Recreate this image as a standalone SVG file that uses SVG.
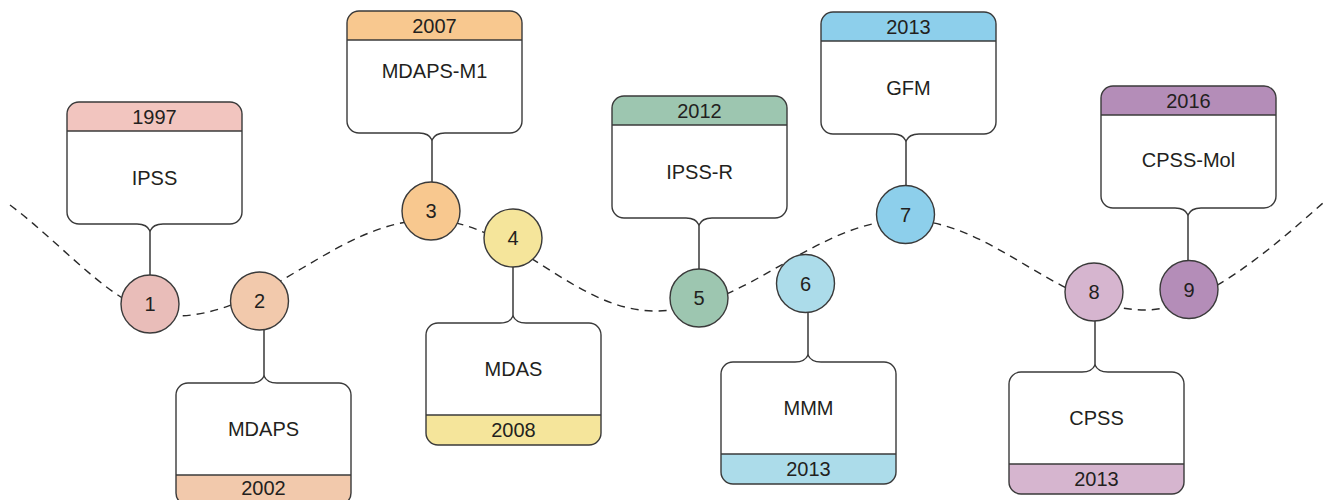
<svg xmlns="http://www.w3.org/2000/svg" width="1323" height="500" viewBox="0 0 1323 500">
  <style>
    .wave { fill: none; stroke: #2a2a2a; stroke-width: 1.4; stroke-dasharray: 8 6; }
    .stem { fill: none; stroke: #2a2a2a; stroke-width: 1.4; }
    .card { fill: #ffffff; stroke: none; }
    .outline { fill: none; stroke: #3a3a3a; stroke-width: 1.4; stroke-linejoin: round; }
    .rule { fill: none; stroke: #3a3a3a; stroke-width: 1.4; }
    .dot { stroke: #3a3a3a; stroke-width: 1.4; }
    text { font-family: "Liberation Sans", Arial, sans-serif; font-size: 20px; fill: #231f20; text-anchor: middle; }
    .c1 { fill: #f2c5bf; } .d1 { fill: #e9bdb9; }
    .c2 { fill: #f2c9ac; }
    .c3 { fill: #f8c88f; }
    .c4 { fill: #f5e59b; }
    .c5 { fill: #9dc6b0; }
    .c6 { fill: #acdcea; }
    .c7 { fill: #8dcfeb; }
    .c8 { fill: #d6b5cf; }
    .c9 { fill: #b48db8; }
  </style>

  <!-- timeline wave and callout stems -->
  <g id="connectors">
    <path class="wave" d="M10,205 C70,250 120,316 175,316 C268,316 337,220 430,220 C512,220 573,311 655,311 C746,311 815,220 906,220 C993,220 1058,310 1145,310 C1200,310 1270,250 1323,203"/>
    <path class="stem" d="M150,231 V275"/>
    <path class="stem" d="M264,376 V329"/>
    <path class="stem" d="M432,140 V182"/>
    <path class="stem" d="M513,267 V316"/>
    <path class="stem" d="M699,225 V269"/>
    <path class="stem" d="M808,312 V355"/>
    <path class="stem" d="M906,141 V186"/>
    <path class="stem" d="M1095,321 V365"/>
    <path class="stem" d="M1188,215 V261"/>
  </g>

  <!-- 1: IPSS 1997 -->
  <g id="node-1">
    <path class="card" d="M79,102 H230 A12 12 0 0 1 242,114 V212 A12 12 0 0 1 230,224 H163 Q153,224 150,231 Q147,224 137,224 H79 A12 12 0 0 1 67,212 V114 A12 12 0 0 1 79,102 Z"/>
    <path class="c1" d="M67,131 V114 A12 12 0 0 1 79,102 H230 A12 12 0 0 1 242,114 V131 Z"/>
    <path class="rule" d="M67,131 H242"/>
    <path class="outline" d="M79,102 H230 A12 12 0 0 1 242,114 V212 A12 12 0 0 1 230,224 H163 Q153,224 150,231 Q147,224 137,224 H79 A12 12 0 0 1 67,212 V114 A12 12 0 0 1 79,102 Z"/>
    <text x="154.5" y="124">1997</text>
    <text x="154.5" y="185">IPSS</text>
    <circle class="dot d1" cx="150" cy="304" r="29"/>
    <text x="150" y="311">1</text>
  </g>

  <!-- 2: MDAPS 2002 -->
  <g id="node-2">
    <path class="card" d="M188,383 H251 Q261,383 264,376 Q267,383 277,383 H339 A12 12 0 0 1 351,395 V493 A12 12 0 0 1 339,505 H188 A12 12 0 0 1 176,493 V395 A12 12 0 0 1 188,383 Z"/>
    <path class="c2" d="M176,475 H351 V493 A12 12 0 0 1 339,505 H188 A12 12 0 0 1 176,493 Z"/>
    <path class="rule" d="M176,475 H351"/>
    <path class="outline" d="M188,383 H251 Q261,383 264,376 Q267,383 277,383 H339 A12 12 0 0 1 351,395 V493 A12 12 0 0 1 339,505 H188 A12 12 0 0 1 176,493 V395 A12 12 0 0 1 188,383 Z"/>
    <text x="263.5" y="436">MDAPS</text>
    <text x="263.5" y="495">2002</text>
    <circle class="dot c2" cx="259.5" cy="301" r="29"/>
    <text x="259.5" y="308">2</text>
  </g>

  <!-- 3: MDAPS-M1 2007 -->
  <g id="node-3">
    <path class="card" d="M359,11 H510 A12 12 0 0 1 522,23 V121 A12 12 0 0 1 510,133 H445 Q435,133 432,140 Q429,133 419,133 H359 A12 12 0 0 1 347,121 V23 A12 12 0 0 1 359,11 Z"/>
    <path class="c3" d="M347,40 V23 A12 12 0 0 1 359,11 H510 A12 12 0 0 1 522,23 V40 Z"/>
    <path class="rule" d="M347,40 H522"/>
    <path class="outline" d="M359,11 H510 A12 12 0 0 1 522,23 V121 A12 12 0 0 1 510,133 H445 Q435,133 432,140 Q429,133 419,133 H359 A12 12 0 0 1 347,121 V23 A12 12 0 0 1 359,11 Z"/>
    <text x="434.5" y="32.5">2007</text>
    <text x="434.5" y="78">MDAPS-M1</text>
    <circle class="dot c3" cx="431" cy="211" r="29"/>
    <text x="431" y="218">3</text>
  </g>

  <!-- 4: MDAS 2008 -->
  <g id="node-4">
    <path class="card" d="M438,323 H500 Q510,323 513,316 Q516,323 526,323 H589 A12 12 0 0 1 601,335 V433 A12 12 0 0 1 589,445 H438 A12 12 0 0 1 426,433 V335 A12 12 0 0 1 438,323 Z"/>
    <path class="c4" d="M426,415 H601 V433 A12 12 0 0 1 589,445 H438 A12 12 0 0 1 426,433 Z"/>
    <path class="rule" d="M426,415 H601"/>
    <path class="outline" d="M438,323 H500 Q510,323 513,316 Q516,323 526,323 H589 A12 12 0 0 1 601,335 V433 A12 12 0 0 1 589,445 H438 A12 12 0 0 1 426,433 V335 A12 12 0 0 1 438,323 Z"/>
    <text x="513.5" y="376">MDAS</text>
    <text x="513.5" y="437">2008</text>
    <circle class="dot c4" cx="513" cy="238" r="29"/>
    <text x="513" y="245">4</text>
  </g>

  <!-- 5: IPSS-R 2012 -->
  <g id="node-5">
    <path class="card" d="M624,96 H775 A12 12 0 0 1 787,108 V206 A12 12 0 0 1 775,218 H712 Q702,218 699,225 Q696,218 686,218 H624 A12 12 0 0 1 612,206 V108 A12 12 0 0 1 624,96 Z"/>
    <path class="c5" d="M612,125 V108 A12 12 0 0 1 624,96 H775 A12 12 0 0 1 787,108 V125 Z"/>
    <path class="rule" d="M612,125 H787"/>
    <path class="outline" d="M624,96 H775 A12 12 0 0 1 787,108 V206 A12 12 0 0 1 775,218 H712 Q702,218 699,225 Q696,218 686,218 H624 A12 12 0 0 1 612,206 V108 A12 12 0 0 1 624,96 Z"/>
    <text x="699.5" y="117.5">2012</text>
    <text x="699.5" y="179">IPSS-R</text>
    <circle class="dot c5" cx="699" cy="298" r="29"/>
    <text x="699" y="305">5</text>
  </g>

  <!-- 6: MMM 2013 -->
  <g id="node-6">
    <path class="card" d="M733,362 H795 Q805,362 808,355 Q811,362 821,362 H884 A12 12 0 0 1 896,374 V472 A12 12 0 0 1 884,484 H733 A12 12 0 0 1 721,472 V374 A12 12 0 0 1 733,362 Z"/>
    <path class="c6" d="M721,454 H896 V472 A12 12 0 0 1 884,484 H733 A12 12 0 0 1 721,472 Z"/>
    <path class="rule" d="M721,454 H896"/>
    <path class="outline" d="M733,362 H795 Q805,362 808,355 Q811,362 821,362 H884 A12 12 0 0 1 896,374 V472 A12 12 0 0 1 884,484 H733 A12 12 0 0 1 721,472 V374 A12 12 0 0 1 733,362 Z"/>
    <text x="808.5" y="415">MMM</text>
    <text x="808.5" y="476">2013</text>
    <circle class="dot c6" cx="805.5" cy="283.5" r="29"/>
    <text x="805.5" y="290.5">6</text>
  </g>

  <!-- 7: GFM 2013 -->
  <g id="node-7">
    <path class="card" d="M833,12 H984 A12 12 0 0 1 996,24 V122 A12 12 0 0 1 984,134 H919 Q909,134 906,141 Q903,134 893,134 H833 A12 12 0 0 1 821,122 V24 A12 12 0 0 1 833,12 Z"/>
    <path class="c7" d="M821,41 V24 A12 12 0 0 1 833,12 H984 A12 12 0 0 1 996,24 V41 Z"/>
    <path class="rule" d="M821,41 H996"/>
    <path class="outline" d="M833,12 H984 A12 12 0 0 1 996,24 V122 A12 12 0 0 1 984,134 H919 Q909,134 906,141 Q903,134 893,134 H833 A12 12 0 0 1 821,122 V24 A12 12 0 0 1 833,12 Z"/>
    <text x="908.5" y="33.5">2013</text>
    <text x="908.5" y="95">GFM</text>
    <circle class="dot c7" cx="905.5" cy="214.5" r="29"/>
    <text x="905.5" y="221.5">7</text>
  </g>

  <!-- 8: CPSS 2013 -->
  <g id="node-8">
    <path class="card" d="M1021,372 H1082 Q1092,372 1095,365 Q1098,372 1108,372 H1172 A12 12 0 0 1 1184,384 V482 A12 12 0 0 1 1172,494 H1021 A12 12 0 0 1 1009,482 V384 A12 12 0 0 1 1021,372 Z"/>
    <path class="c8" d="M1009,464 H1184 V482 A12 12 0 0 1 1172,494 H1021 A12 12 0 0 1 1009,482 Z"/>
    <path class="rule" d="M1009,464 H1184"/>
    <path class="outline" d="M1021,372 H1082 Q1092,372 1095,365 Q1098,372 1108,372 H1172 A12 12 0 0 1 1184,384 V482 A12 12 0 0 1 1172,494 H1021 A12 12 0 0 1 1009,482 V384 A12 12 0 0 1 1021,372 Z"/>
    <text x="1096.5" y="425">CPSS</text>
    <text x="1096.5" y="486">2013</text>
    <circle class="dot c8" cx="1094" cy="292" r="29"/>
    <text x="1094" y="299">8</text>
  </g>

  <!-- 9: CPSS-Mol 2016 -->
  <g id="node-9">
    <path class="card" d="M1113,86 H1264 A12 12 0 0 1 1276,98 V196 A12 12 0 0 1 1264,208 H1201 Q1191,208 1188,215 Q1185,208 1175,208 H1113 A12 12 0 0 1 1101,196 V98 A12 12 0 0 1 1113,86 Z"/>
    <path class="c9" d="M1101,115 V98 A12 12 0 0 1 1113,86 H1264 A12 12 0 0 1 1276,98 V115 Z"/>
    <path class="rule" d="M1101,115 H1276"/>
    <path class="outline" d="M1113,86 H1264 A12 12 0 0 1 1276,98 V196 A12 12 0 0 1 1264,208 H1201 Q1191,208 1188,215 Q1185,208 1175,208 H1113 A12 12 0 0 1 1101,196 V98 A12 12 0 0 1 1113,86 Z"/>
    <text x="1188.5" y="107.5">2016</text>
    <text x="1188.5" y="167">CPSS-Mol</text>
    <circle class="dot c9" cx="1189" cy="289.5" r="29"/>
    <text x="1189" y="296.5">9</text>
  </g>
</svg>
